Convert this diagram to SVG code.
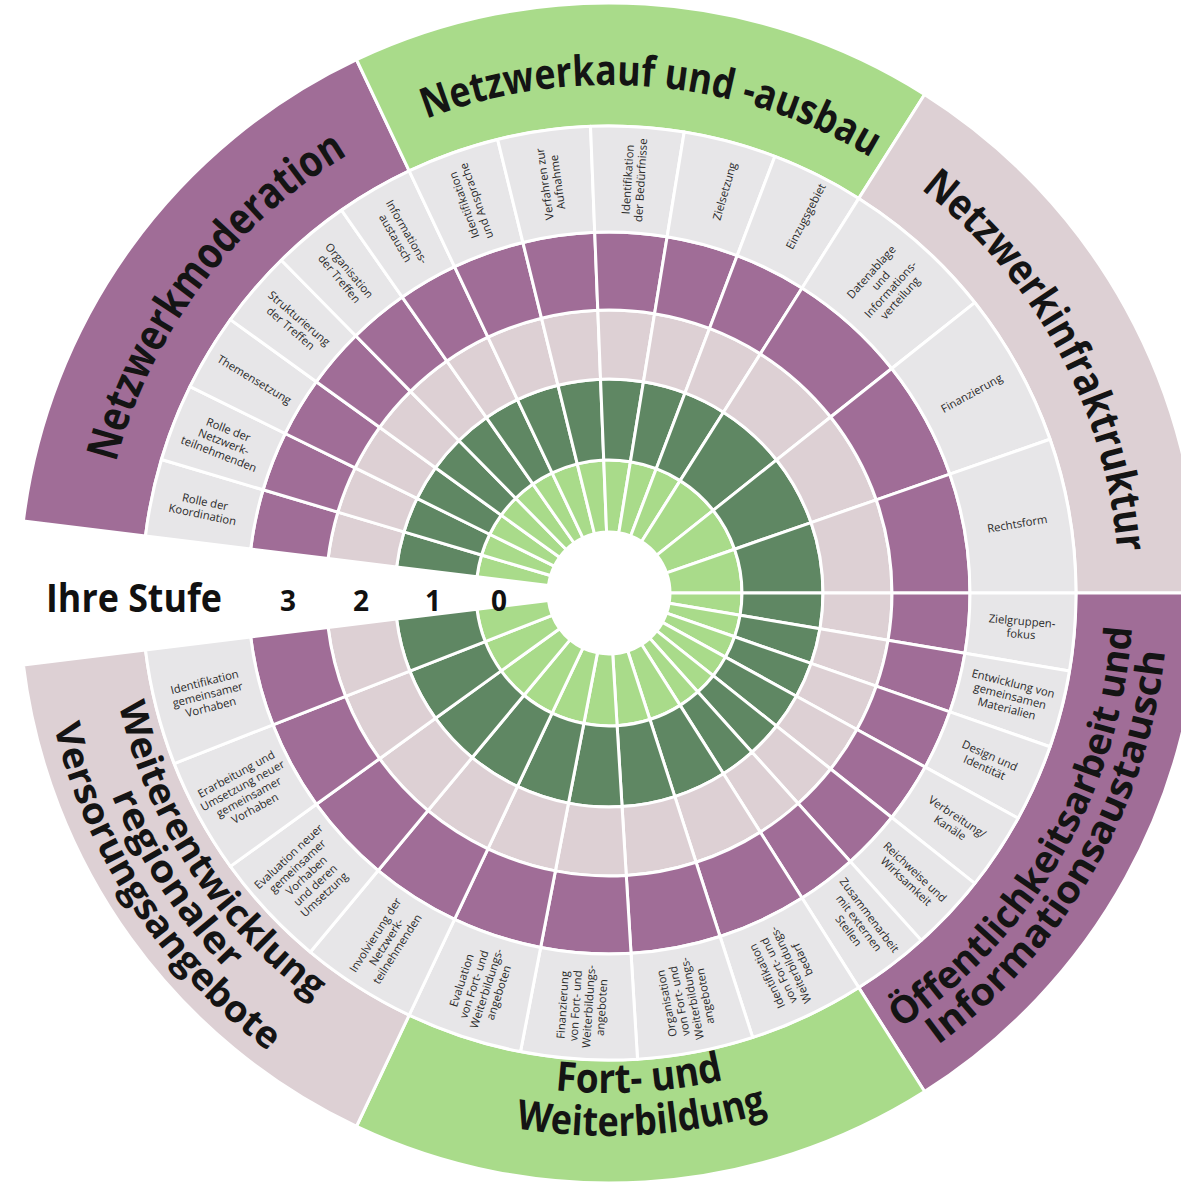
<svg xmlns="http://www.w3.org/2000/svg" xmlns:xlink="http://www.w3.org/1999/xlink" width="1181" height="1184" viewBox="0 0 1181 1184">
<style>
.sec{stroke:#ffffff;stroke-width:3;stroke-linejoin:round}
.l0{fill:#a9db8a}
.l1{fill:#5f8763}
.l2{fill:#ddd0d4}
.l3{fill:#a06d97}
.lb{fill:#e7e6e8}
.fp{fill:#a06d97}
.fg{fill:#a9db8a}
.fk{fill:#ddd0d4}
.lbl{font-family:"Open Sans","Liberation Sans",sans-serif;font-size:11.3px;fill:#2a2a2a;text-anchor:middle}
.ttl{font-family:"Open Sans","Liberation Sans",sans-serif;font-weight:700;fill:#141414}
.stufe{font-family:"Open Sans","Liberation Sans",sans-serif;font-weight:700;fill:#111111}
</style>
<defs>
<g id="s6">
<path class="sec l0" d="M133,0A133,133 0 0 1 131.133,22.206L60.144,10.185A61,61 0 0 0 61,0Z"/>
<path class="sec l1" d="M214,0A214,214 0 0 1 210.996,35.729L131.133,22.206A133,133 0 0 0 133,0Z"/>
<path class="sec l2" d="M283,0A283,283 0 0 1 279.028,47.250L210.996,35.729A214,214 0 0 0 214,0Z"/>
<path class="sec l3" d="M361,0A361,361 0 0 1 355.933,60.273L279.028,47.250A283,283 0 0 0 283,0Z"/>
<path class="sec lb" d="M467,0A467,467 0 0 1 460.445,77.970L355.933,60.273A361,361 0 0 0 361,0Z"/>
</g>
<g id="s5">
<path class="sec l0" d="M133,0A133,133 0 0 1 130.314,26.592L59.768,12.196A61,61 0 0 0 61,0Z"/>
<path class="sec l1" d="M214,0A214,214 0 0 1 209.679,42.787L130.314,26.592A133,133 0 0 0 133,0Z"/>
<path class="sec l2" d="M283,0A283,283 0 0 1 277.286,56.583L209.679,42.787A214,214 0 0 0 214,0Z"/>
<path class="sec l3" d="M361,0A361,361 0 0 1 353.711,72.178L277.286,56.583A283,283 0 0 0 283,0Z"/>
<path class="sec lb" d="M467,0A467,467 0 0 1 457.570,93.372L353.711,72.178A361,361 0 0 0 361,0Z"/>
</g>
<g id="s3">
<path class="sec l0" d="M133,0A133,133 0 0 1 125.585,43.788L57.599,20.083A61,61 0 0 0 61,0Z"/>
<path class="sec l1" d="M214,0A214,214 0 0 1 202.069,70.456L125.585,43.788A133,133 0 0 0 133,0Z"/>
<path class="sec l2" d="M283,0A283,283 0 0 1 267.222,93.173L202.069,70.456A214,214 0 0 0 214,0Z"/>
<path class="sec l3" d="M361,0A361,361 0 0 1 340.874,118.853L267.222,93.173A283,283 0 0 0 283,0Z"/>
<path class="sec lb" d="M467,0A467,467 0 0 1 440.964,153.752L340.874,118.853A361,361 0 0 0 361,0Z"/>
</g>
<g id="s4">
<path class="sec l0" d="M133,0A133,133 0 0 1 128.812,33.113L59.079,15.187A61,61 0 0 0 61,0Z"/>
<path class="sec l1" d="M214,0A214,214 0 0 1 207.261,53.280L128.812,33.113A133,133 0 0 0 133,0Z"/>
<path class="sec l2" d="M283,0A283,283 0 0 1 274.089,70.459L207.261,53.280A214,214 0 0 0 214,0Z"/>
<path class="sec l3" d="M361,0A361,361 0 0 1 349.632,89.879L274.089,70.459A283,283 0 0 0 283,0Z"/>
<path class="sec lb" d="M467,0A467,467 0 0 1 452.295,116.269L349.632,89.879A361,361 0 0 0 361,0Z"/>
</g>
<path id="band" class="sec" d="M590,0A590,590 0 0 1 315.56,498.52L249.77,394.59A467,467 0 0 0 467,0Z"/>
<path id="cw508" d="M0,-508A508,508 0 0 1 0,508"/>
<path id="cw510" d="M0,-510A510,510 0 0 1 0,510"/>
<path id="ccw500" d="M0,500A500,500 0 0 0 0,-500"/>
<path id="ccw503" d="M0,503A503,503 0 0 0 0,-503"/>
<path id="ccw524" d="M0,524A524,524 0 0 0 0,-524"/>
<path id="ccw537" d="M0,537A537,537 0 0 0 0,-537"/>
<path id="ccw543" d="M0,543A543,543 0 0 0 0,-543"/>
<path id="ccw559" d="M0,559A559,559 0 0 0 0,-559"/>
<path id="ccw571" d="M0,571A571,571 0 0 0 0,-571"/>
</defs>
<rect width="1181" height="1184" fill="#ffffff"/>
<g id="wheel" transform="translate(609,593)">

<g id="cat-netzwerkmoderation" transform="rotate(187)">
<use href="#band" class="fp"/>
<text class="ttl" font-size="44" transform="rotate(30)"><textPath href="#cw510" startOffset="50%" text-anchor="middle" textLength="395" lengthAdjust="spacingAndGlyphs">Netzwerkmoderation</textPath></text>
<g id="item-rolle-koordination"><use href="#s6"/><text class="lbl" transform="rotate(4.8056) translate(414) rotate(180)"><tspan x="0" dy="-2.6">Rolle der</tspan><tspan x="0" dy="13">Koordination</tspan></text></g>
<g id="item-rolle-netzwerkteilnehmende" transform="rotate(9.6111)"><use href="#s6"/><text class="lbl" transform="rotate(4.8056) translate(414) rotate(180)"><tspan x="0" dy="-9.1">Rolle der</tspan><tspan x="0" dy="13">Netzwerk-</tspan><tspan x="0" dy="13">teilnehmenden</tspan></text></g>
<g id="item-themensetzung" transform="rotate(19.2222)"><use href="#s6"/><text class="lbl" transform="rotate(4.8056) translate(414) rotate(180)"><tspan x="0" dy="3.9">Themensetzung</tspan></text></g>
<g id="item-strukturierung" transform="rotate(28.8333)"><use href="#s6"/><text class="lbl" transform="rotate(4.8056) translate(414) rotate(180)"><tspan x="0" dy="-2.6">Strukturierung</tspan><tspan x="0" dy="13">der Treffen</tspan></text></g>
<g id="item-organisation-treffen" transform="rotate(38.4444)"><use href="#s6"/><text class="lbl" transform="rotate(4.8056) translate(414) rotate(180)"><tspan x="0" dy="-2.6">Organisation</tspan><tspan x="0" dy="13">der Treffen</tspan></text></g>
<g id="item-informationsaustausch" transform="rotate(48.0556)"><use href="#s6"/><text class="lbl" transform="rotate(4.8056) translate(414) rotate(180)"><tspan x="0" dy="-2.6">Informations-</tspan><tspan x="0" dy="13">austausch</tspan></text></g>
</g>

<g id="cat-netzwerkaufbau" transform="rotate(244.6667)">
<use href="#band" class="fg"/>
<text class="ttl" font-size="42" transform="rotate(30.3)"><textPath href="#cw508" startOffset="50%" text-anchor="middle" textLength="462" lengthAdjust="spacingAndGlyphs">Netzwerkauf und -ausbau</textPath></text>
<g id="item-identifikation-ansprache"><use href="#s5"/><text class="lbl" transform="rotate(5.7667) translate(414)"><tspan x="0" dy="-2.6">Identifikation</tspan><tspan x="0" dy="13">und Ansprache</tspan></text></g>
<g id="item-verfahren-aufnahme" transform="rotate(11.5333)"><use href="#s5"/><text class="lbl" transform="rotate(5.7667) translate(414)"><tspan x="0" dy="-2.6">Verfahren zur</tspan><tspan x="0" dy="13">Aufnahme</tspan></text></g>
<g id="item-identifikation-beduerfnisse" transform="rotate(23.0667)"><use href="#s5"/><text class="lbl" transform="rotate(5.7667) translate(414)"><tspan x="0" dy="-2.6">Identifikation</tspan><tspan x="0" dy="13">der Bedürfnisse</tspan></text></g>
<g id="item-zielsetzung" transform="rotate(34.6)"><use href="#s5"/><text class="lbl" transform="rotate(6.8) translate(418)"><tspan x="0" dy="3.9">Zielsetzung</tspan></text></g>
<g id="item-einzugsgebiet" transform="rotate(46.1333)"><use href="#s5"/><text class="lbl" transform="rotate(6.8) translate(425)"><tspan x="0" dy="3.9">Einzugsgebiet</tspan></text></g>
</g>

<g id="cat-netzwerkinfrastruktur" transform="rotate(302.3333)">
<use href="#band" class="fk"/>
<text class="ttl" font-size="42" transform="rotate(29.2)"><textPath href="#cw510" startOffset="50%" text-anchor="middle" textLength="425" lengthAdjust="spacingAndGlyphs">Netzwerkinfraktruktur</textPath></text>
<g id="item-datenablage"><use href="#s3"/><text class="lbl" transform="rotate(9.6111) translate(414)"><tspan x="0" dy="-15.6">Datenablage</tspan><tspan x="0" dy="13">und</tspan><tspan x="0" dy="13">Informations-</tspan><tspan x="0" dy="13">verteilung</tspan></text></g>
<g id="item-finanzierung" transform="rotate(19.2222)"><use href="#s3"/><text class="lbl" transform="rotate(9.6111) translate(414)"><tspan x="0" dy="3.9">Finanzierung</tspan></text></g>
<g id="item-rechtsform" transform="rotate(38.4444)"><use href="#s3"/><text class="lbl" transform="rotate(9.6111) translate(414)"><tspan x="0" dy="3.9">Rechtsform</tspan></text></g>
</g>

<g id="cat-oeffentlichkeitsarbeit" transform="rotate(0)">
<use href="#band" class="fp"/>
<text class="ttl" font-size="38" transform="rotate(30)"><textPath href="#ccw524" startOffset="50%" text-anchor="middle" textLength="480" lengthAdjust="spacingAndGlyphs">Öffentlichkeitsarbeit und</textPath></text>
<text class="ttl" font-size="38" transform="rotate(30)"><textPath href="#ccw559" startOffset="50%" text-anchor="middle" textLength="468" lengthAdjust="spacingAndGlyphs">Informationsaustausch</textPath></text>
<g id="item-zielgruppenfokus"><use href="#s6"/><text class="lbl" transform="rotate(4.8056) translate(414)"><tspan x="0" dy="-2.6">Zielgruppen-</tspan><tspan x="0" dy="13">fokus</tspan></text></g>
<g id="item-entwicklung-materialien" transform="rotate(9.6111)"><use href="#s6"/><text class="lbl" transform="rotate(4.8056) translate(414)"><tspan x="0" dy="-9.1">Entwicklung von</tspan><tspan x="0" dy="13">gemeinsamen</tspan><tspan x="0" dy="13">Materialien</tspan></text></g>
<g id="item-design-identitaet" transform="rotate(19.2222)"><use href="#s6"/><text class="lbl" transform="rotate(4.8056) translate(414)"><tspan x="0" dy="-2.6">Design und</tspan><tspan x="0" dy="13">Identität</tspan></text></g>
<g id="item-verbreitung" transform="rotate(28.8333)"><use href="#s6"/><text class="lbl" transform="rotate(4.8056) translate(414)"><tspan x="0" dy="-2.6">Verbreitung/</tspan><tspan x="0" dy="13">Kanäle</tspan></text></g>
<g id="item-reichweite" transform="rotate(38.4444)"><use href="#s6"/><text class="lbl" transform="rotate(4.8056) translate(414)"><tspan x="0" dy="-2.6">Reichweise und</tspan><tspan x="0" dy="13">Wirksamkeit</tspan></text></g>
<g id="item-zusammenarbeit" transform="rotate(48.0556)"><use href="#s6"/><text class="lbl" transform="rotate(4.8056) translate(414)"><tspan x="0" dy="-9.1">Zusammenarbeit</tspan><tspan x="0" dy="13">mit externen</tspan><tspan x="0" dy="13">Stellen</tspan></text></g>
</g>

<g id="cat-fortbildung" transform="rotate(57.6667)">
<use href="#band" class="fg"/>
<text class="ttl" font-size="41" transform="rotate(28.8)"><textPath href="#ccw500" startOffset="50%" text-anchor="middle" textLength="170" lengthAdjust="spacingAndGlyphs">Fort- und</textPath></text>
<text class="ttl" font-size="41" transform="rotate(28.8)"><textPath href="#ccw543" startOffset="50%" text-anchor="middle" textLength="255" lengthAdjust="spacingAndGlyphs">Weiterbildung</textPath></text>
<g id="item-identifikation-bedarf"><use href="#s4"/><text class="lbl" transform="rotate(7.2083) translate(414) rotate(180)"><tspan x="0" dy="-15.6">Identifikation</tspan><tspan x="0" dy="13">von Fort- und</tspan><tspan x="0" dy="13">Weiterbildungs-</tspan><tspan x="0" dy="13">bedarf</tspan></text></g>
<g id="item-organisation-angebote" transform="rotate(14.4167)"><use href="#s4"/><text class="lbl" transform="rotate(7.2083) translate(414) rotate(180)"><tspan x="0" dy="-15.6">Organisation</tspan><tspan x="0" dy="13">von Fort- und</tspan><tspan x="0" dy="13">Weiterbildungs-</tspan><tspan x="0" dy="13">angeboten</tspan></text></g>
<g id="item-finanzierung-angebote" transform="rotate(28.8333)"><use href="#s4"/><text class="lbl" transform="rotate(7.2083) translate(414) rotate(180)"><tspan x="0" dy="-15.6">Finanzierung</tspan><tspan x="0" dy="13">von Fort- und</tspan><tspan x="0" dy="13">Weiterbildungs-</tspan><tspan x="0" dy="13">angeboten</tspan></text></g>
<g id="item-evaluation-angebote" transform="rotate(43.25)"><use href="#s4"/><text class="lbl" transform="rotate(7.2083) translate(414) rotate(180)"><tspan x="0" dy="-15.6">Evaluation</tspan><tspan x="0" dy="13">von Fort- und</tspan><tspan x="0" dy="13">Weiterbildungs-</tspan><tspan x="0" dy="13">angeboten</tspan></text></g>
</g>

<g id="cat-weiterentwicklung" transform="rotate(115.3333)">
<use href="#band" class="fk"/>
<text class="ttl" font-size="37" transform="rotate(31.2)"><textPath href="#ccw503" startOffset="50%" text-anchor="middle" textLength="362" lengthAdjust="spacingAndGlyphs">Weiterentwicklung</textPath></text>
<text class="ttl" font-size="37" transform="rotate(31.2)"><textPath href="#ccw537" startOffset="50%" text-anchor="middle" textLength="212" lengthAdjust="spacingAndGlyphs">regionaler</textPath></text>
<text class="ttl" font-size="37" transform="rotate(31.2)"><textPath href="#ccw571" startOffset="50%" text-anchor="middle" textLength="398" lengthAdjust="spacingAndGlyphs">Versorungsangebote</textPath></text>
<g id="item-involvierung"><use href="#s4"/><text class="lbl" transform="rotate(7.2083) translate(414) rotate(180)"><tspan x="0" dy="-9.1">Involvierung der</tspan><tspan x="0" dy="13">Netzwerk-</tspan><tspan x="0" dy="13">teilnehmenden</tspan></text></g>
<g id="item-evaluation-vorhaben" transform="rotate(14.4167)"><use href="#s4"/><text class="lbl" transform="rotate(7.2083) translate(414) rotate(180)"><tspan x="0" dy="-22.1">Evaluation neuer</tspan><tspan x="0" dy="13">gemeinsamer</tspan><tspan x="0" dy="13">Vorhaben</tspan><tspan x="0" dy="13">und deren</tspan><tspan x="0" dy="13">Umsetzung</tspan></text></g>
<g id="item-erarbeitung-vorhaben" transform="rotate(28.8333)"><use href="#s4"/><text class="lbl" transform="rotate(7.2083) translate(414) rotate(180)"><tspan x="0" dy="-15.6">Erarbeitung und</tspan><tspan x="0" dy="13">Umsetzung neuer</tspan><tspan x="0" dy="13">gemeinsamer</tspan><tspan x="0" dy="13">Vorhaben</tspan></text></g>
<g id="item-identifikation-vorhaben" transform="rotate(43.25)"><use href="#s4"/><text class="lbl" transform="rotate(7.2083) translate(414) rotate(180)"><tspan x="0" dy="-9.1">Identifikation</tspan><tspan x="0" dy="13">gemeinsamer</tspan><tspan x="0" dy="13">Vorhaben</tspan></text></g>
</g>
</g>

<g id="stufe-legend">
<text class="stufe" x="46" y="612" font-size="40" textLength="176" lengthAdjust="spacingAndGlyphs">Ihre Stufe</text>
<text class="stufe" x="288" y="611" font-size="28" text-anchor="middle">3</text>
<text class="stufe" x="361" y="611" font-size="28" text-anchor="middle">2</text>
<text class="stufe" x="433" y="611" font-size="28" text-anchor="middle">1</text>
<text class="stufe" x="499" y="611" font-size="28" text-anchor="middle">0</text>
</g>
</svg>
